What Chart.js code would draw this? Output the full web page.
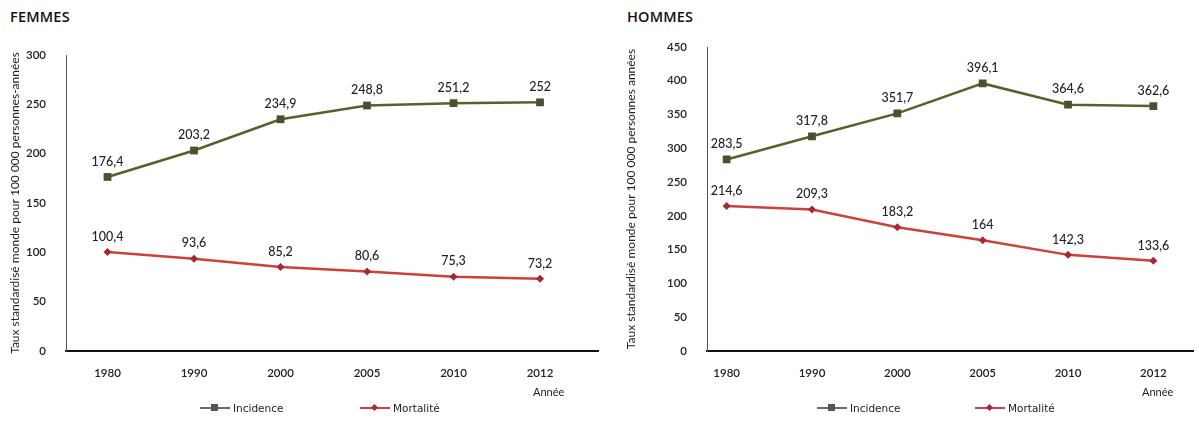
<!DOCTYPE html>
<html>
<head>
<meta charset="utf-8">
<script src="https://cdn.jsdelivr.net/npm/chart.js@4.4.0/dist/chart.umd.min.js"></script>
<style>
  body { margin: 0; background: #fff; width: 1199px; height: 424px; position: relative; overflow: hidden; font-family: Lato, sans-serif; color: #222; }
  .panel { position: absolute; top: 0; height: 424px; }
  .titre { position: absolute; top: 7px; font: 600 14.5px "Open Sans", sans-serif; color: #111; letter-spacing: 0.2px; }
  .annee { position: absolute; top: 385px; font: 11px Lato, sans-serif; color: #222; }
  .legende { position: absolute; top: 402px; font: 10.5px "DejaVu Sans", sans-serif; color: #222; display: flex; align-items: center; }
  .trait { position: relative; width: 30px; height: 2px; margin-right: 3px; }
  .trait span { position: absolute; left: 11px; top: -3px; width: 7px; height: 7px; }
  .trait.rouge span { transform: rotate(45deg); width: 5px; height: 5px; left: 12px; top: -2px; }
</style>
</head>
<body>
<div class="titre" style="left:10px">FEMMES</div>
<div class="titre" style="left:627px">HOMMES</div>
<div class="panel" style="left:0;width:610px"><canvas id="femmes"></canvas></div>
<div class="panel" style="left:610px;width:589px"><canvas id="hommes"></canvas></div>
<div class="annee" style="left:533px">Année</div>
<div class="annee" style="left:1142px">Année</div>

<div class="legende" style="left:200px"><div class="trait" style="background:#6b6b6b"><span style="background:#555"></span></div>Incidence</div>
<div class="legende" style="left:360px"><div class="trait rouge" style="background:#c8434f"><span style="background:#a3283a"></span></div>Mortalité</div>
<div class="legende" style="left:817px"><div class="trait" style="background:#6b6b6b"><span style="background:#555"></span></div>Incidence</div>
<div class="legende" style="left:975px"><div class="trait rouge" style="background:#c8434f"><span style="background:#a3283a"></span></div>Mortalité</div>

<script>
// Données
const annees = ['1980', '1990', '2000', '2005', '2010', '2012'];
const femmesIncidence = [176.4, 203.2, 234.9, 248.8, 251.2, 252];
const femmesMortalite = [100.4, 93.6, 85.2, 80.6, 75.3, 73.2];
const hommesIncidence = [283.5, 317.8, 351.7, 396.1, 364.6, 362.6];
const hommesMortalite = [214.6, 209.3, 183.2, 164, 142.3, 133.6];

// Étiquettes de valeur au-dessus des points
const etiquettes = {
    id: 'etiquettes',
    afterDatasetsDraw(chart) {
        const ctx = chart.ctx;
        ctx.save();
        ctx.font = '500 12.5px Lato';
        ctx.fillStyle = '#222';
        ctx.textAlign = 'center';
        ctx.textBaseline = 'bottom';
        chart.data.datasets.forEach((ds, i) => {
            chart.getDatasetMeta(i).data.forEach((pt, j) => {
                ctx.fillText(String(ds.data[j].y).replace('.', ','), pt.x, pt.y - 9);
            });
        });
        ctx.restore();
    }
};

function points(valeurs) {
    return valeurs.map((v, i) => ({ x: i, y: v }));
}

function creerGraphique(id, incidence, mortalite, opts) {
    const ctx = document.getElementById(id).getContext('2d');
    return new Chart(ctx, {
        type: 'line',
        data: {
            datasets: [
                {
                    label: 'Incidence',
                    data: points(incidence),
                    borderColor: '#56622c',
                    backgroundColor: '#4b5130',
                    borderWidth: 2.5,
                    pointStyle: 'rect',
                    pointRadius: 5.5,
                    pointBorderWidth: 0,
                    tension: 0
                },
                {
                    label: 'Mortalité',
                    data: points(mortalite),
                    borderColor: '#cc4138',
                    backgroundColor: '#a3283a',
                    borderWidth: 2.5,
                    pointStyle: 'rectRot',
                    pointRadius: 4,
                    pointBorderWidth: 0,
                    tension: 0
                }
            ]
        },
        options: {
            responsive: true,
            maintainAspectRatio: false,
            animation: false,
            layout: { padding: { top: opts.haut, right: opts.droite, left: 0, bottom: 0 } },
            plugins: { legend: { display: false }, tooltip: { enabled: false } },
            scales: {
                x: {
                    type: 'linear',
                    min: opts.xmin,
                    max: opts.xmax,
                    afterFit: axis => { axis.height = 73; },
                    afterBuildTicks: axis => {
                        axis.ticks = annees.map((_, i) => ({ value: i }));
                    },
                    grid: { display: false },
                    border: { color: '#111', width: 2 },
                    ticks: {
                        padding: 7,
                        autoSkip: false,
                        maxRotation: 0,
                        font: { family: 'Lato', size: 11.5, weight: '600' },
                        color: '#222',
                        callback: v => annees[v]
                    }
                },
                y: {
                    min: 0,
                    max: opts.ymax,
                    afterFit: axis => { axis.width = opts.largeurY; },
                    grid: { display: false },
                    border: { color: '#555', width: 1 },
                    ticks: {
                        stepSize: 50,
                        padding: 12,
                        font: { family: 'Lato', size: 11.5, weight: '600' },
                        color: '#222'
                    },
                    title: {
                        display: true,
                        text: opts.titreY,
                        font: { family: 'Lato', size: 12 },
                        color: '#222',
                        padding: { top: opts.titrePad, bottom: 0 }
                    }
                }
            }
        },
        plugins: [etiquettes]
    });
}

creerGraphique('femmes', femmesIncidence, femmesMortalite, {
    haut: 55, droite: 12, xmin: -0.48, xmax: 5.67, ymax: 300, largeurY: 66, titrePad: 8,
    titreY: 'Taux standardisé monde pour 100 000 personnes-années'
});
creerGraphique('hommes', hommesIncidence, hommesMortalite, {
    haut: 47, droite: 4, xmin: -0.23, xmax: 5.47, ymax: 450, largeurY: 97, titrePad: 14,
    titreY: 'Taux standardisé monde pour 100 000 personnes années'
});
</script>
</body>
</html>
